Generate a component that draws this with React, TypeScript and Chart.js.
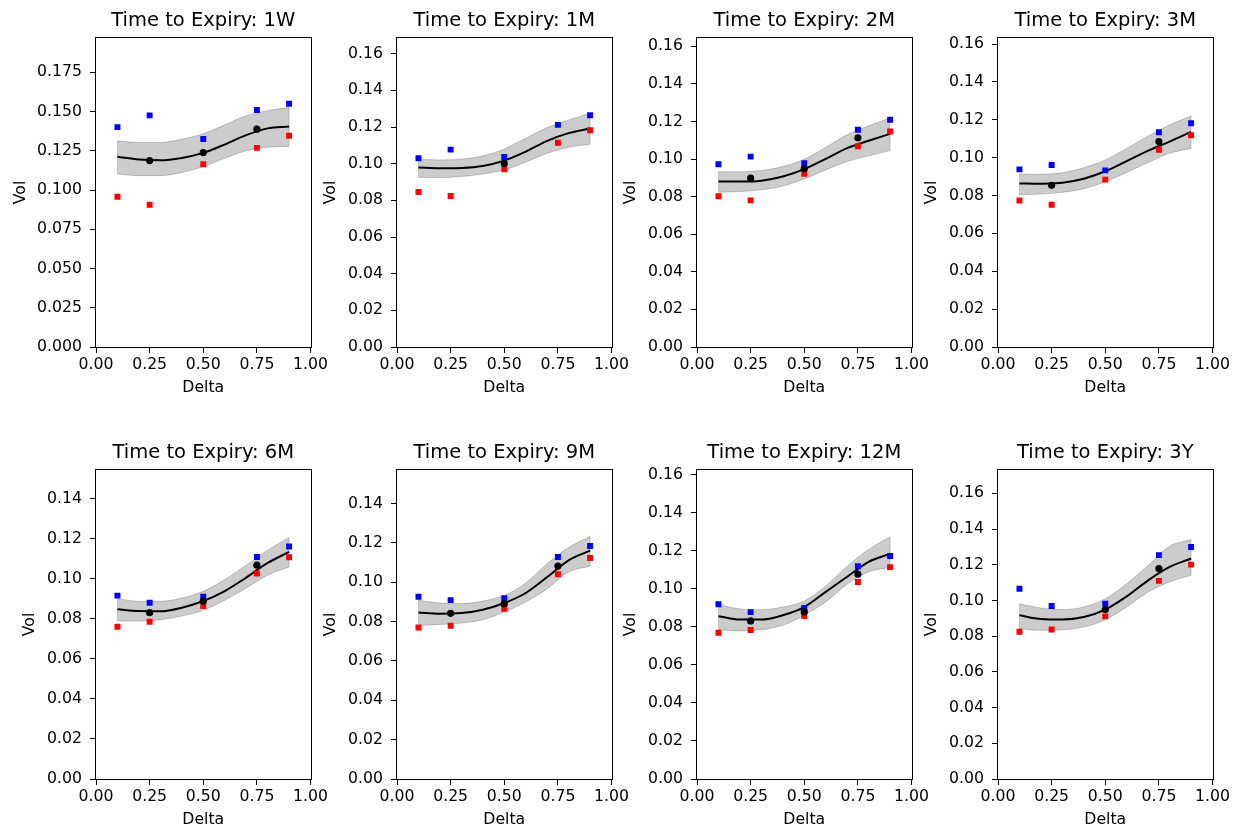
import React, { useEffect, useRef } from 'react';
import { Chart, registerables } from 'chart.js';

Chart.register(...registerables);

// ---------- data ----------
const expiries = ['1W', '1M', '2M', '3M', '6M', '9M', '12M', '3Y'];
const quoteDeltas = [0.1, 0.25, 0.5, 0.75, 0.9];
const curveDeltas = [0.1, 0.2, 0.3, 0.4, 0.5, 0.6, 0.7, 0.8, 0.9];
const xTicks = [0, 0.25, 0.5, 0.75, 1.0];

const askVols: number[][] = [
  [0.1401, 0.1476, 0.1325, 0.1510, 0.1550],
  [0.1030, 0.1077, 0.1037, 0.1212, 0.1265],
  [0.0972, 0.1013, 0.0978, 0.1156, 0.1209],
  [0.0938, 0.0961, 0.0933, 0.1134, 0.1182],
  [0.0915, 0.0880, 0.0910, 0.1108, 0.1160],
  [0.0926, 0.0909, 0.0918, 0.1128, 0.1184],
  [0.0920, 0.0878, 0.0900, 0.1120, 0.1173],
  [0.1066, 0.0969, 0.0982, 0.1254, 0.1300],
];

const bidVols: number[][] = [
  [0.0958, 0.0907, 0.1165, 0.1269, 0.1346],
  [0.0846, 0.0824, 0.0970, 0.1114, 0.1183],
  [0.0802, 0.0780, 0.0921, 0.1068, 0.1147],
  [0.0774, 0.0751, 0.0884, 0.1042, 0.1118],
  [0.0760, 0.0785, 0.0863, 0.1025, 0.1107],
  [0.0770, 0.0779, 0.0865, 0.1040, 0.1123],
  [0.0770, 0.0784, 0.0858, 0.1037, 0.1115],
  [0.0825, 0.0838, 0.0911, 0.1110, 0.1201],
];

const midVols: (number | null)[][] = [
  [null, 0.1188, 0.1239, 0.1388, null],
  [null, null, 0.1001, null, null],
  [null, 0.0898, 0.0948, 0.1113, null],
  [null, 0.0854, null, 0.1085, null],
  [null, 0.0830, 0.0888, 0.1067, null],
  [null, 0.0842, 0.0891, 0.1082, null],
  [null, 0.0832, 0.0879, 0.1078, null],
  [null, null, 0.0949, 0.1179, null],
];

const fitVols: number[][] = [
  [0.1212, 0.1195, 0.1190, 0.1205, 0.1237, 0.1290, 0.1350, 0.1393, 0.1405],
  [0.0979, 0.0975, 0.0977, 0.0988, 0.1017, 0.1066, 0.1125, 0.1167, 0.1192],
  [0.0880, 0.0880, 0.0885, 0.0907, 0.0946, 0.1001, 0.1058, 0.1097, 0.1134],
  [0.0864, 0.0862, 0.0868, 0.0889, 0.0928, 0.0982, 0.1037, 0.1085, 0.1136],
  [0.0847, 0.0838, 0.0837, 0.0855, 0.0888, 0.0938, 0.1005, 0.1078, 0.1133],
  [0.0846, 0.0840, 0.0843, 0.0860, 0.0894, 0.0945, 0.1026, 0.1111, 0.1160],
  [0.0857, 0.0839, 0.0839, 0.0862, 0.0905, 0.0985, 0.1064, 0.1143, 0.1185],
  [0.0917, 0.0896, 0.0893, 0.0907, 0.0949, 0.1023, 0.1113, 0.1188, 0.1235],
];

const upperVols: number[][] = [
  [0.1314, 0.1303, 0.1303, 0.1325, 0.1359, 0.1416, 0.1474, 0.1506, 0.1527],
  [0.1025, 0.1021, 0.1025, 0.1043, 0.1081, 0.1139, 0.1197, 0.1239, 0.1276],
  [0.0933, 0.0932, 0.0939, 0.0960, 0.0999, 0.1063, 0.1129, 0.1177, 0.1218],
  [0.0914, 0.0912, 0.0921, 0.0947, 0.0988, 0.1049, 0.1115, 0.1173, 0.1220],
  [0.0900, 0.0887, 0.0887, 0.0903, 0.0937, 0.0995, 0.1067, 0.1142, 0.1205],
  [0.0908, 0.0894, 0.0891, 0.0904, 0.0933, 0.0996, 0.1094, 0.1176, 0.1233],
  [0.0918, 0.0895, 0.0891, 0.0905, 0.0937, 0.1015, 0.1120, 0.1208, 0.1275],
  [0.0982, 0.0958, 0.0949, 0.0964, 0.1010, 0.1094, 0.1197, 0.1304, 0.1341],
];

const lowerVols: number[][] = [
  [0.1103, 0.1092, 0.1092, 0.1112, 0.1150, 0.1203, 0.1250, 0.1273, 0.1278],
  [0.0926, 0.0924, 0.0930, 0.0944, 0.0966, 0.1008, 0.1057, 0.1090, 0.1106],
  [0.0823, 0.0827, 0.0836, 0.0857, 0.0894, 0.0942, 0.0987, 0.1017, 0.1045],
  [0.0804, 0.0808, 0.0817, 0.0836, 0.0873, 0.0922, 0.0974, 0.1023, 0.1049],
  [0.0788, 0.0788, 0.0795, 0.0813, 0.0842, 0.0892, 0.0953, 0.1017, 0.1058],
  [0.0780, 0.0785, 0.0792, 0.0809, 0.0848, 0.0899, 0.0967, 0.1052, 0.1081],
  [0.0786, 0.0779, 0.0786, 0.0809, 0.0862, 0.0932, 0.1025, 0.1090, 0.1113],
  [0.0842, 0.0833, 0.0836, 0.0851, 0.0892, 0.0964, 0.1048, 0.1104, 0.1141],
];

const yMaxes = [0.1969, 0.1686, 0.1644, 0.1632, 0.1542, 0.157, 0.1626, 0.1731];

const yTicks3dp = [0, 0.025, 0.05, 0.075, 0.1, 0.125, 0.15, 0.175];
const yTicks014 = [0, 0.02, 0.04, 0.06, 0.08, 0.1, 0.12, 0.14];
const yTicks016 = [0, 0.02, 0.04, 0.06, 0.08, 0.1, 0.12, 0.14, 0.16];
const yTickSets = [yTicks3dp, yTicks016, yTicks016, yTicks016, yTicks014, yTicks014, yTicks016, yTicks016];
const yDecimals = [3, 2, 2, 2, 2, 2, 2, 2];

// ---------- layout ----------
const AXES_LEFTS = [96, 397, 697, 998];
const AXES_TOPS = [38, 470];
const AXES_W = 215;
const AXES_H = 309;
const Y_AXIS_W = 84;
const TITLE_H = 38;
const X_AXIS_H = 50;
const RIGHT_PAD = 20;
const FONT = '"DejaVu Sans", sans-serif';
const TICK_FONT = { family: FONT, size: 15.7, weight: 'normal' as const, lineHeight: 1.2 };
const BAND = 'rgba(0,0,0,0.2)';

const pts = (xs: number[], ys: (number | null)[]) =>
  xs.map((x, i) => ({ x, y: ys[i] })).filter((p) => p.y !== null) as { x: number; y: number }[];

const framePlugin = {
  id: 'frame',
  afterDraw(chart: any) {
    const { ctx, chartArea: a } = chart;
    ctx.save();
    ctx.strokeStyle = '#000';
    ctx.lineWidth = 1;
    ctx.strokeRect(Math.round(a.left) - 0.5, Math.round(a.top) - 0.5, Math.round(a.right - a.left) + 1, Math.round(a.bottom - a.top) + 1);
    ctx.restore();
  },
};

function Panel({ idx }: { idx: number }) {
  const ref = useRef<HTMLCanvasElement>(null);
  const col = idx % 4;
  const row = Math.floor(idx / 4);
  const left = AXES_LEFTS[col] - Y_AXIS_W;
  const top = AXES_TOPS[row] - TITLE_H;
  const width = Y_AXIS_W + AXES_W + RIGHT_PAD;
  const height = TITLE_H + AXES_H + X_AXIS_H;

  useEffect(() => {
    const canvas = ref.current!;
    const up = upperVols[idx];
    const lo = lowerVols[idx];
    const n = curveDeltas.length;
    const lineBase = { showLine: true, pointRadius: 0, pointHoverRadius: 0, cubicInterpolationMode: 'monotone' as const };
    const chart = new Chart(canvas, {
      type: 'scatter',
      data: {
        datasets: [
          { ...lineBase, data: pts(curveDeltas, up), borderColor: BAND, borderWidth: 1, backgroundColor: BAND, fill: '+1', order: 10 },
          { ...lineBase, data: pts(curveDeltas, lo), borderColor: BAND, borderWidth: 1, fill: false, order: 9 },
          { ...lineBase, data: [{ x: curveDeltas[0], y: lo[0] }, { x: curveDeltas[0], y: up[0] }], borderColor: BAND, borderWidth: 1, fill: false, order: 9, cubicInterpolationMode: 'default' as const },
          { ...lineBase, data: [{ x: curveDeltas[n - 1], y: lo[n - 1] }, { x: curveDeltas[n - 1], y: up[n - 1] }], borderColor: BAND, borderWidth: 1, fill: false, order: 9, cubicInterpolationMode: 'default' as const },
          { ...lineBase, data: pts(curveDeltas, fitVols[idx]), borderColor: '#000', borderWidth: 2, fill: false, order: 5 },
          { data: pts(quoteDeltas, askVols[idx]), pointStyle: 'rect', pointRadius: 4.2, pointHoverRadius: 4.2, backgroundColor: '#0000ff', borderWidth: 0, pointBorderWidth: 0, order: 3 },
          { data: pts(quoteDeltas, bidVols[idx]), pointStyle: 'rect', pointRadius: 4.2, pointHoverRadius: 4.2, backgroundColor: '#ff0000', borderWidth: 0, pointBorderWidth: 0, order: 2 },
          { data: pts(quoteDeltas, midVols[idx]), pointStyle: 'circle', pointRadius: 3.6, pointHoverRadius: 3.6, backgroundColor: '#000000', borderWidth: 0, pointBorderWidth: 0, order: 1 },
        ] as any,
      },
      options: {
        animation: false,
        responsive: false,
        devicePixelRatio: 1,
        events: [],
        layout: { padding: { left: 0, right: RIGHT_PAD, top: 0, bottom: 0 } },
        plugins: {
          legend: { display: false },
          tooltip: { enabled: false },
          title: {
            display: true,
            text: `Time to Expiry: ${expiries[idx]}`,
            fullSize: false,
            color: '#000',
            font: { family: FONT, size: 19.5, weight: 'normal', lineHeight: 1.2 },
            padding: { top: 9.3, bottom: 5.3 },
          },
        },
        scales: {
          x: {
            type: 'linear',
            min: 0,
            max: 1,
            afterBuildTicks: (s: any) => {
              s.ticks = xTicks.map((v) => ({ value: v }));
            },
            afterFit: (s: any) => {
              s.height = X_AXIS_H;
            },
            ticks: {
              callback: (v: any) => Number(v).toFixed(2),
              font: TICK_FONT,
              color: '#000',
              padding: 3,
              maxRotation: 0,
              autoSkip: false,
            },
            grid: { drawOnChartArea: false, drawTicks: true, tickLength: 6, color: '#000', lineWidth: 1 },
            border: { display: false },
            title: { display: true, text: 'Delta', color: '#000', font: TICK_FONT, padding: 0 },
          },
          y: {
            type: 'linear',
            min: 0,
            max: yMaxes[idx],
            afterBuildTicks: (s: any) => {
              s.ticks = yTickSets[idx].map((v) => ({ value: v }));
            },
            afterFit: (s: any) => {
              s.width = Y_AXIS_W;
            },
            ticks: {
              callback: (v: any) => Number(v).toFixed(yDecimals[idx]),
              font: TICK_FONT,
              color: '#000',
              padding: 8,
              autoSkip: false,
            },
            grid: { drawOnChartArea: false, drawTicks: true, tickLength: 6, color: '#000', lineWidth: 1 },
            border: { display: false },
            title: {
              display: true,
              text: 'Vol',
              color: '#000',
              font: TICK_FONT,
              padding: { top: yDecimals[idx] === 3 ? 0 : 8.3, bottom: 0 },
            },
          },
        },
      } as any,
      plugins: [framePlugin],
    });
    return () => chart.destroy();
  }, [idx]);

  return (
    <canvas
      ref={ref}
      width={width}
      height={height}
      style={{ position: 'absolute', left, top, width, height }}
    />
  );
}

export default function App() {
  return (
    <div style={{ position: 'absolute', left: 0, top: 0, width: 1233, height: 830, background: '#fff', overflow: 'hidden' }}>
      {expiries.map((_, i) => (
        <Panel key={i} idx={i} />
      ))}
    </div>
  );
}
